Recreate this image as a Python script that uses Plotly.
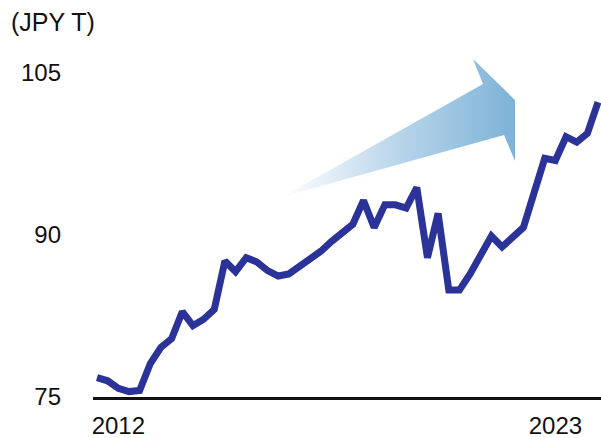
import plotly.graph_objects as go

# ---- data (quarterly, JPY trillion) ----
years = list(range(2012, 2024))
quarters = [f"{y}Q{q}" for y in years for q in range(1, 5)]
values = [
    76.8, 76.5, 75.8, 75.5, 75.6, 78.1, 79.6, 80.4, 82.9, 81.6, 82.2, 83.1,
    87.6, 86.6, 87.9, 87.5, 86.7, 86.2, 86.4, 87.1, 87.8, 88.5, 89.4, 90.2,
    91.0, 93.2, 90.7, 92.8, 92.8, 92.5, 94.4, 87.9, 92.0, 84.9, 84.9, 86.4,
    88.1, 89.9, 88.9, 89.8, 90.7, 93.9, 97.1, 96.9, 99.1, 98.6, 99.4, 102.3,
]
tick_labels = ["2012", "2023"]
tick_quarters = ["2012Q3", "2022Q4"]
y_ticks = [75, 90, 105]
unit_label = "(JPY T)"

# ---- layout geometry ----
W, H = 601, 438
L, R, T, B = 93, 0, 55, 41
x_range = [-0.375, len(values) - 1 + 0.28]
y_range = [75, 106.67]

x_idx = list(range(len(values)))
tick_idx = [quarters.index(q) for q in tick_quarters]

pw = W - L - R
ph = H - T - B


def px_to_data(px, py):
    x = x_range[0] + (px - L) / pw * (x_range[1] - x_range[0])
    y = y_range[0] + (H - B - py) / ph * (y_range[1] - y_range[0])
    return x, y


# decorative arrow outline (pixel geometry)
arrow_px = [(282, 197), (483, 84), (473, 59), (515, 100), (515, 161), (504, 135), (282, 197)]
arrow_pts = [px_to_data(a, b) for a, b in arrow_px]

fig = go.Figure()
fig.add_trace(go.Scatter(
    x=[p[0] for p in arrow_pts], y=[p[1] for p in arrow_pts],
    mode="lines", fill="toself", line=dict(width=0, color="rgba(0,0,0,0)"),
    fillgradient=dict(type="horizontal",
                      colorscale=[[0, "rgba(255,255,255,1)"], [0.5, "#b8d5ea"], [1, "#7db2d7"]]),
    hoverinfo="skip", showlegend=False,
))
fig.add_trace(go.Scatter(
    x=x_idx, y=values, mode="lines",
    line=dict(color="#2b3398", width=7, shape="linear"),
    showlegend=False,
))

font = dict(family="Liberation Sans, Arial, sans-serif", size=24, color="#111111")

fig.update_layout(
    width=W, height=H,
    margin=dict(l=L, r=R, t=T, b=B, autoexpand=False),
    paper_bgcolor="white", plot_bgcolor="white",
    font=font,
    xaxis=dict(range=x_range, showgrid=False, zeroline=False, automargin=False,
               showline=True, linecolor="#111111", linewidth=3,
               tickmode="array", tickvals=tick_idx, ticktext=tick_labels,
               ticks="", ticklabelstandoff=5),
    yaxis=dict(range=y_range, showgrid=False, zeroline=False, showline=False,
               automargin=False,
               tickmode="array", tickvals=y_ticks, ticktext=[str(v) for v in y_ticks],
               ticks="", ticklabelstandoff=31),
    annotations=[dict(text=unit_label, xref="paper", yref="paper",
                      x=(9 - L) / pw, y=(H - B - 22) / ph,
                      xanchor="left", yanchor="middle", showarrow=False,
                      font=dict(family=font["family"], size=25, color=font["color"]))],
)

fig.write_html(
    "out.html",
    config={"displayModeBar": False},
    post_script="document.body.style.margin='0';document.body.style.overflow='hidden';",
)
